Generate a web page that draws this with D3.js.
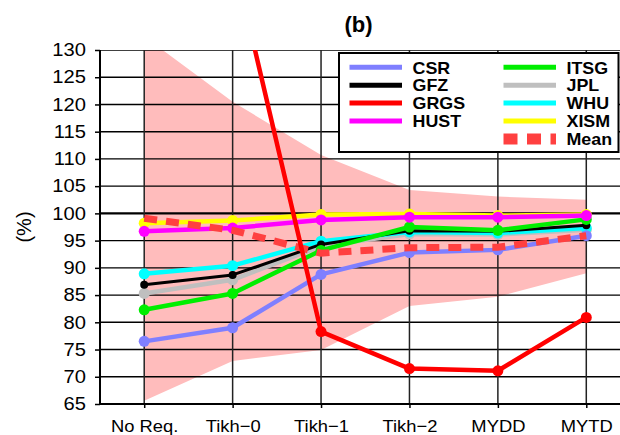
<!DOCTYPE html>
<html>
<head>
<meta charset="utf-8">
<script src="https://cdn.jsdelivr.net/npm/d3@7"></script>
<style>
  html, body { margin: 0; padding: 0; background: #fff; }
  svg { display: block; font-family: "Liberation Sans", Arial, sans-serif; }
</style>
</head>
<body>
<svg id="chart" width="620" height="435"></svg>
<script>
// ---- data ----
const categories = ["No Req.", "Tikh\u22120", "Tikh\u22121", "Tikh\u22122", "MYDD", "MYTD"];
const csr  = [76.5, 79.0, 88.8, 92.8, 93.3, 95.9];
const gfz  = [86.9, 88.7, 94.3, 96.8, 96.7, 97.8];
const grgs = [178.0, 147.5, 78.3, 71.5, 71.1, 80.9];
const hust = [96.7, 97.3, 98.8, 99.3, 99.3, 99.6];
const itsg = [82.3, 85.3, 93.2, 97.5, 96.9, 98.9];
const jpl  = [85.3, 87.8, 94.0, 96.2, 96.1, 97.0];
const whu  = [88.9, 90.4, 94.9, 96.6, 96.4, 97.3];
const xism = [98.2, 98.7, 99.8, 99.9, 99.6, 99.8];
const meanVals  = [99.1, 96.9, 92.7, 93.7, 93.8, 95.9];
const bandUpper = [132.5, 120.5, 110.7, 104.3, 103.1, 102.5];
const bandLower = [65.6, 72.9, 74.9, 83.0, 84.7, 89.0];
const yTicks = [65, 70, 75, 80, 85, 90, 95, 100, 105, 110, 115, 120, 125, 130];
const seriesNames = ["CSR", "GFZ", "GRGS", "HUST", "ITSG", "JPL", "WHU", "XISM"];

// ---- styles ----
const colors = {CSR:"#7f7fff", GFZ:"#000000", GRGS:"#ff0000", HUST:"#ff00ff",
                ITSG:"#00ee00", JPL:"#bfbfbf", WHU:"#00ffff", XISM:"#ffff00"};
const valuesBy = {CSR:csr, GFZ:gfz, GRGS:grgs, HUST:hust, ITSG:itsg, JPL:jpl, WHU:whu, XISM:xism};

const svg = d3.select("#chart");
const L = 100, T = 50, R = 630.5, B = 404;

// horizontally widen text (reference glyphs are a bit wider than Liberation Sans)
function stretch(sel, f) {
  sel.each(function() {
    const len = this.getComputedTextLength();
    if (len > 0) {
      d3.select(this).attr("textLength", len * f).attr("lengthAdjust", "spacingAndGlyphs");
    }
  });
}

const x = d3.scalePoint().domain(categories).range([L, R]).padding(0.5);
const y = d3.scaleLinear().domain([65, 130]).range([B, T]);

svg.append("defs").append("clipPath").attr("id", "plotclip")
  .append("rect").attr("x", L).attr("y", T).attr("width", R - L).attr("height", B - T);

const plot = svg.append("g").attr("clip-path", "url(#plotclip)");

// band
const bandData = categories.map((c, i) => ({c, lo: bandLower[i], hi: bandUpper[i]}));
plot.append("path").datum(bandData)
  .attr("fill", "#ffbcbc")
  .attr("d", d3.area().x(d => x(d.c)).y0(d => y(d.lo)).y1(d => y(d.hi)));

// horizontal grid
plot.append("g").selectAll("line").data(yTicks).join("line")
  .attr("x1", L).attr("x2", R)
  .attr("y1", d => y(d)).attr("y2", d => y(d))
  .attr("stroke", "#000").attr("stroke-width", d => d === 100 ? 2.4 : 1.4);

// vertical grid
plot.append("g").selectAll("line").data(categories).join("line")
  .attr("x1", d => x(d)).attr("x2", d => x(d))
  .attr("y1", T).attr("y2", B)
  .attr("stroke", "#222").attr("stroke-width", 1.5);

// series lines
const line = d3.line().x((d, i) => x(categories[i])).y(d => y(d));
const drawOrder = ["JPL", "WHU", "GFZ", "CSR", "ITSG", "XISM", "HUST"];
function drawSeries(name) {
  const vals = valuesBy[name];
  const g = plot.append("g");
  const w = name === "GFZ" ? 3 : 4.5;
  const r = name === "GFZ" ? 4 : 5.5;
  g.append("path").datum(vals).attr("fill", "none")
    .attr("stroke", colors[name]).attr("stroke-width", w)
    .attr("stroke-linejoin", "round").attr("d", line);
  g.selectAll("circle").data(vals).join("circle")
    .attr("cx", (d, i) => x(categories[i])).attr("cy", d => y(d))
    .attr("r", r).attr("fill", colors[name]);
}
drawOrder.forEach(drawSeries);

// mean dashed
plot.append("path").datum(meanVals).attr("fill", "none")
  .attr("stroke", "#ff4040").attr("stroke-width", 7)
  .attr("stroke-dasharray", "13,9").attr("d", line);

drawSeries("GRGS");

// axes
const yAxis = d3.axisLeft(y).tickValues(yTicks).tickSize(5).tickPadding(9);
const gy = svg.append("g").attr("transform", `translate(${L},0)`).call(yAxis);
gy.select(".domain").attr("stroke-width", 2).attr("d", `M0,${T}V${B}`);
gy.selectAll(".tick line").attr("stroke-width", 1.5);
gy.selectAll("text").attr("font-size", 18).attr("fill", "#000")
  .attr("font-family", "Liberation Sans, Arial, sans-serif");
stretch(gy.selectAll("text"), 1.12);

const xAxis = d3.axisBottom(x).tickSize(4).tickPadding(12);
const gx = svg.append("g").attr("transform", `translate(0,${B})`).call(xAxis);
gx.select(".domain").attr("stroke-width", 2).attr("d", `M${L},0H${R}`);
gx.selectAll(".tick line").attr("stroke-width", 1.5);
gx.selectAll("text").attr("font-size", 17).attr("fill", "#000")
  .attr("font-family", "Liberation Sans, Arial, sans-serif");
stretch(gx.selectAll("text"), 1.08);

// y label
const yl = svg.append("text").attr("transform", "translate(31,227) rotate(-90)")
  .attr("text-anchor", "middle").attr("font-size", 20).text("(%)");

// title
svg.append("text").attr("x", 358.5).attr("y", 32).attr("text-anchor", "middle")
  .attr("font-size", 22).attr("font-weight", "bold").text("(b)");

// legend
const lg = svg.append("g");
lg.append("rect").attr("x", 339).attr("y", 53).attr("width", 279.5).attr("height", 99)
  .attr("fill", "#fff").attr("stroke", "#000").attr("stroke-width", 2);
const legendItems = seriesNames.map(n => ({name: n, color: colors[n], dash: false}))
  .concat([{name: "Mean", color: "#ff4040", dash: true}]);
const rowY = i => 67.3 + (i % 5) * 17.9;
legendItems.forEach((d, k) => {
  const col = k < 4 ? 0 : 1;
  const row = k < 4 ? k : k - 4;
  const x0 = col === 0 ? 349.5 : 503.5;
  const yy = rowY(row);
  lg.append("line").attr("x1", x0).attr("x2", x0 + 52.5).attr("y1", yy).attr("y2", yy)
    .attr("stroke", d.color).attr("stroke-width", d.dash ? 11 : 5)
    .attr("stroke-dasharray", d.dash ? "14,9.5" : null);
  const t = lg.append("text").attr("x", x0 + 63).attr("y", yy + 6.2)
    .attr("font-size", 17).attr("font-weight", "bold").text(d.name);
  stretch(t, 1.05);
});
</script>
</body>
</html>
